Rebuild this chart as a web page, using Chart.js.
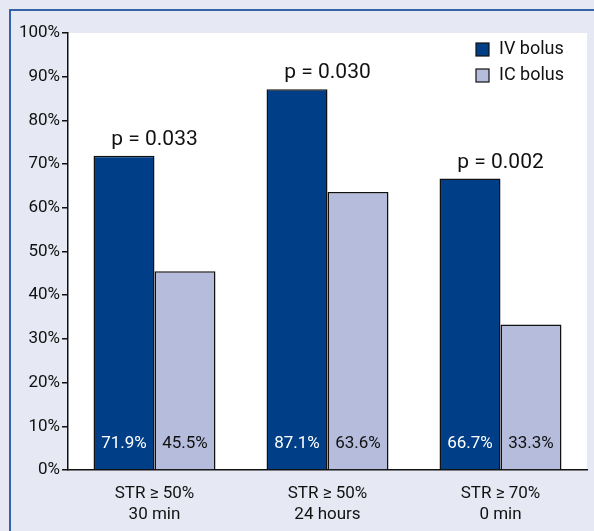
<!DOCTYPE html>
<html>
<head>
<meta charset="utf-8">
<script src="https://cdn.jsdelivr.net/npm/chart.js@4"></script>
<style>
  html, body { margin: 0; padding: 0; background: #e6e8f4; overflow: hidden; }
  #wrap { position: relative; width: 594px; height: 531px; overflow: hidden; }
  #frame { position: absolute; left: 9px; top: 9px; width: 600px; height: 540px;
           border-left: 2px solid #3563a9; border-top: 2px solid #3563a9; }
  canvas { position: absolute; left: 0; top: 0; }
</style>
</head>
<body>
<div id="wrap">
  <div id="frame"></div>
  <canvas id="chart" width="594" height="531"></canvas>
</div>
<script>
const FONT = "Roboto, 'Liberation Sans', sans-serif";

const categories = [["STR \u2265 50%", "30 min"], ["STR \u2265 50%", "24 hours"], ["STR \u2265 70%", "0 min"]];
const seriesNames = ["IV bolus", "IC bolus"];
const ivValues = [71.9, 87.1, 66.7];
const icValues = [45.5, 63.6, 33.3];
const pValues = ["p = 0.033", "p = 0.030", "p = 0.002"];
const yTicks = [0, 10, 20, 30, 40, 50, 60, 70, 80, 90, 100];

const colors = ["#003f87", "#b5bcdc"];
const labelColors = ["#ffffff", "#111111"];

const extras = {
  id: "extras",
  beforeDraw(chart) {
    const { ctx, chartArea: a } = chart;
    ctx.save();
    ctx.fillStyle = "#ffffff";
    ctx.fillRect(a.left, a.top, a.right - a.left, a.bottom - a.top);
    ctx.restore();
  },
  afterDatasetsDraw(chart) {
    const { ctx } = chart;
    ctx.save();
    ctx.textAlign = "center";
    // values inside bars
    ctx.font = "17px " + FONT;
    ctx.textBaseline = "middle";
    chart.data.datasets.forEach((ds, di) => {
      chart.getDatasetMeta(di).data.forEach((bar, i) => {
        ctx.fillStyle = labelColors[di];
        ctx.fillText(ds.data[i].toFixed(1) + "%", bar.x, chart.chartArea.bottom - 26);
      });
    });
    // p values
    ctx.font = "21px " + FONT;
    ctx.fillStyle = "#111111";
    ctx.textBaseline = "alphabetic";
    const xs = chart.scales.x;
    const iv = chart.getDatasetMeta(0).data;
    pValues.forEach((p, i) => {
      ctx.fillText(p, xs.getPixelForValue(i), iv[i].y - 11);
    });
    // legend
    ctx.font = "18px " + FONT;
    ctx.textAlign = "left";
    ctx.textBaseline = "middle";
    seriesNames.forEach((name, i) => {
      const y = 49.5 + i * 26;
      ctx.fillStyle = colors[i];
      ctx.fillRect(476, y - 6.5, 13, 13);
      ctx.strokeStyle = "#111111";
      ctx.lineWidth = 1.2;
      ctx.strokeRect(476, y - 6.5, 13, 13);
      ctx.fillStyle = "#111111";
      ctx.fillText(name, 499, y);
    });
    ctx.restore();
  }
};

new Chart(document.getElementById("chart"), {
  type: "bar",
  data: {
    labels: categories,
    datasets: [
      { label: seriesNames[0], data: ivValues, backgroundColor: colors[0],
        borderColor: "#111111", borderWidth: 1.5 },
      { label: seriesNames[1], data: icValues, backgroundColor: colors[1],
        borderColor: "#111111", borderWidth: 1.5 }
    ]
  },
  options: {
    responsive: false,
    animation: false,
    layout: { padding: { top: 33, right: 7, left: 0, bottom: 0 } },
    plugins: { legend: { display: false }, tooltip: { enabled: false } },
    datasets: { bar: { categoryPercentage: 0.705, barPercentage: 1 } },
    scales: {
      x: {
        grid: { display: false },
        border: { color: "#111111", width: 1.5 },
        ticks: { color: "#111111", font: { family: FONT, size: 17, lineHeight: 1.25 }, padding: 5 },
        afterFit(s) { s.height = 61; }
      },
      y: {
        min: 0, max: 100,
        afterBuildTicks(s) { s.ticks = yTicks.map(v => ({ value: v })); },
        grid: { drawOnChartArea: false, drawTicks: true, tickLength: 6, color: "#111111", lineWidth: 1.5 },
        border: { color: "#111111", width: 1.5 },
        ticks: { color: "#111111", font: { family: FONT, size: 17 }, padding: 2,
                 callback: v => v + "%" },
        afterFit(s) { s.width = 68; }
      }
    }
  },
  plugins: [extras]
});
</script>
</body>
</html>
